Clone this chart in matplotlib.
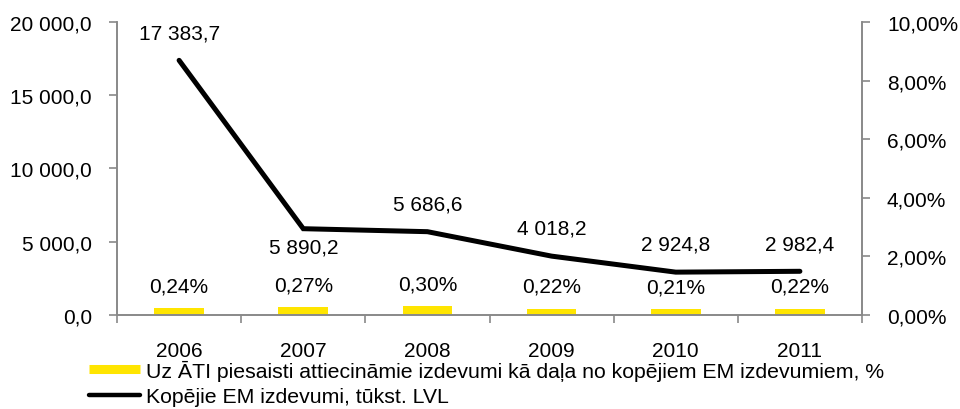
import numpy as np
import matplotlib
matplotlib.use("Agg")
import matplotlib.pyplot as plt
from matplotlib.lines import Line2D

plt.rcParams['font.family'] = ['Liberation Sans', 'DejaVu Sans']

years = ['2006', '2007', '2008', '2009', '2010', '2011']
total_spend = [17383.7, 5890.2, 5686.6, 4018.2, 2924.8, 2982.4]
share_pct = [0.24, 0.27, 0.30, 0.22, 0.21, 0.22]
label_share = 'Uz ĀTI piesaisti attiecināmie izdevumi kā daļa no kopējiem EM izdevumiem, %'
label_total = 'Kopējie EM izdevumi, tūkst. LVL'

# label above (+) or below (-) the line point, in points
line_lbl_off = [20, -13, 20, 20, 20, 20]


def fmt_num(v, dec=1):
    s = f"{v:,.{dec}f}"
    return s.replace(',', ' ').replace('.', ',')


gray = '#898989'
yellow = '#FFE500'
fs = 15

fig = plt.figure(figsize=(9.6, 4.1), dpi=100)
ax = fig.add_axes([0.1219, 0.2293, 0.776, 0.7146])
ax2 = ax.twinx()
ax.set_zorder(ax2.get_zorder() + 1)
ax.patch.set_visible(False)

x = np.arange(len(years))

bars = ax2.bar(x, share_pct, width=0.4, color=yellow, zorder=2)
for xi, v in zip(x, share_pct):
    ax2.annotate(f"{v:.2f}%".replace('.', ','), (xi, v), xytext=(0, 16),
                 textcoords='offset points', ha='center', va='center', fontsize=fs)

ax.plot(x, total_spend, color='black', lw=3.6, solid_capstyle='round',
        solid_joinstyle='miter', zorder=3)
for xi, v, off in zip(x, total_spend, line_lbl_off):
    ax.annotate(fmt_num(v), (xi, v), xytext=(0, off), textcoords='offset points',
                ha='center', va='center', fontsize=fs)

ax.set_xlim(-0.5, len(years) - 0.5)
ax.set_ylim(0, 20000)
ax2.set_ylim(0, 10)

ax.set_yticks(np.arange(0, 20001, 5000))
ax.set_yticklabels([fmt_num(v) for v in np.arange(0, 20001, 5000)])
ax2.set_yticks(np.arange(0, 10.1, 2))
ax2.set_yticklabels([f"{v:.2f}%".replace('.', ',') for v in np.arange(0, 10.1, 2)])

ax.set_xticks(x)
ax.set_xticklabels(years)
ax.set_xticks(np.arange(-0.5, len(years), 1), minor=True)
ax.tick_params(axis='x', which='major', length=0, pad=19, labelsize=fs)
ax.tick_params(axis='x', which='minor', length=6, color=gray, width=1.2, direction='out')
ax.tick_params(axis='y', length=6, color=gray, width=1.2, pad=12, labelsize=fs)
ax2.tick_params(axis='y', length=6, color=gray, width=1.2, pad=12, labelsize=fs)

for a in (ax, ax2):
    a.spines['top'].set_visible(False)
    for s in ('left', 'right', 'bottom'):
        a.spines[s].set_color(gray)
        a.spines[s].set_linewidth(1.2)

handles = [Line2D([], [], color=yellow, lw=6.5, solid_capstyle='butt'),
           Line2D([], [], color='black', lw=3.2, solid_capstyle='round')]
fig.legend(handles, [label_share, label_total], loc='upper left',
           bbox_to_anchor=(0.093, 0.12), frameon=False, fontsize=15.3,
           handlelength=2.4, handletextpad=0.25, labelspacing=0.3,
           borderaxespad=0, borderpad=0)

fig.savefig('out.png', dpi=100)
